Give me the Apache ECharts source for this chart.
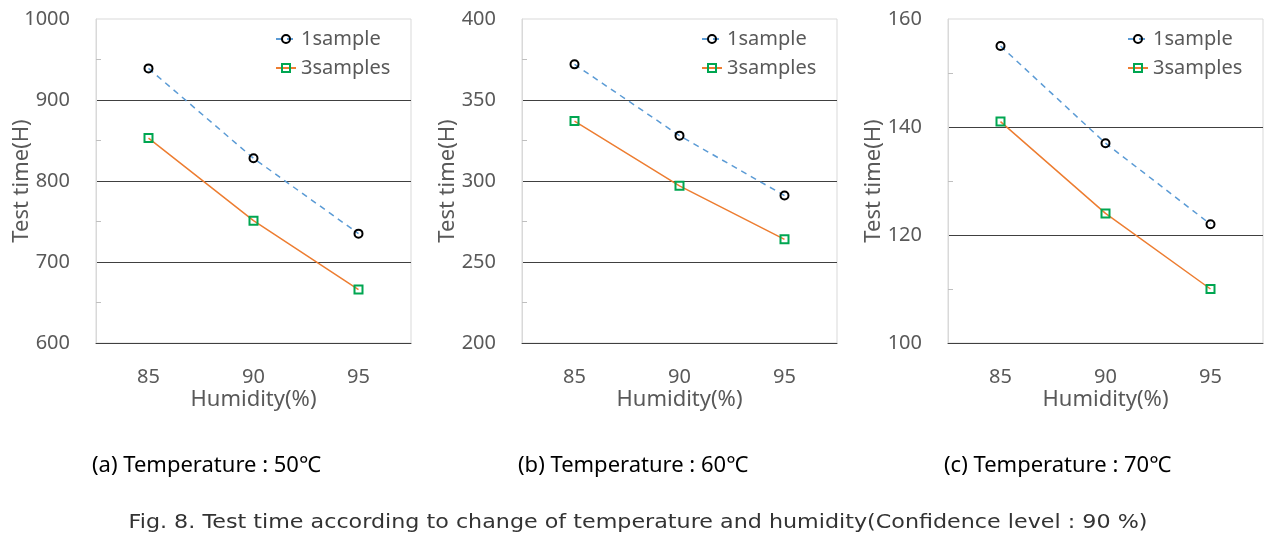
<!DOCTYPE html>
<html>
<head>
<meta charset="utf-8">
<script src="https://cdn.jsdelivr.net/npm/echarts@6/dist/echarts.min.js"></script>
<style>
html,body{margin:0;padding:0;background:#fff;}
#chart{width:1283px;height:546px;}
</style>
</head>
<body>
<div id="chart"></div>
<script>
// ---- data ----
const categories = ['85', '90', '95'];
const seriesNames = ['1sample', '3samples'];
const oneSampleA = [939, 828, 735];
const threeSamplesA = [853, 751, 666];
const oneSampleB = [372, 328, 291];
const threeSamplesB = [337, 297, 264];
const oneSampleC = [155, 137, 122];
const threeSamplesC = [141, 124, 110];
const yMin = [600, 200, 100];
const yMax = [1000, 400, 160];
const yStep = [100, 50, 20];
const subCaptions = ['(a) Temperature : 50\u2103', '(b) Temperature : 60\u2103', '(c) Temperature : 70\u2103'];
const caption = 'Fig. 8. Test time according to change of temperature and humidity(Confidence level : 90 %)';
const xName = 'Humidity(%)';
const yName = 'Test time(H)';

// ---- layout ----
const FONT = '"Noto Sans", sans-serif';
const panels = [
  {left: 96, one: oneSampleA, three: threeSamplesA},
  {left: 522, one: oneSampleB, three: threeSamplesB},
  {left: 948, one: oneSampleC, three: threeSamplesC}
];
const gridTop = 19, gridH = 324, gridW = 315;

const grids = [], xAxes = [], yAxes = [], series = [], legends = [], titles = [];
panels.forEach((p, i) => {
  grids.push({left: p.left, top: gridTop, width: gridW, height: gridH,
    show: true, borderColor: '#d9d9d9', borderWidth: 1, backgroundColor: 'transparent',
    outerBoundsMode: 'none'});
  xAxes.push({type: 'category', gridIndex: i, data: categories, boundaryGap: true,
    axisLine: {show: true, lineStyle: {color: '#404040', width: 1}},
    axisTick: {show: false},
    axisLabel: {color: '#595959', fontSize: 20, fontFamily: FONT, margin: 24},
    name: xName, nameLocation: 'middle', nameGap: 46, nameMoveOverlap: false,
    nameTextStyle: {color: '#595959', fontSize: 22, fontFamily: FONT},
    splitLine: {show: false}});
  yAxes.push({type: 'value', gridIndex: i, min: yMin[i], max: yMax[i], interval: yStep[i],
    axisLine: {show: true, lineStyle: {color: '#d9d9d9', width: 1}},
    axisTick: {show: false, inside: true},
    minorTick: {show: true, splitNumber: 2, length: 5, lineStyle: {color: '#bfbfbf', width: 1}},
    minorSplitLine: {show: false},
    axisLabel: {color: '#595959', fontSize: 20, fontFamily: FONT, margin: 26,
      formatter: v => String(v)},
    splitLine: {show: true, showMaxLine: false, lineStyle: {color: '#404040', width: 1}},
    name: yName, nameLocation: 'middle', nameGap: 63, nameRotate: 90, nameMoveOverlap: false,
    nameTextStyle: {color: '#595959', fontSize: 22, fontFamily: FONT}});
  series.push({name: seriesNames[0], type: 'line', xAxisIndex: i, yAxisIndex: i, data: p.one,
    color: '#5B9BD5',
    symbol: 'circle', symbolSize: 8,
    itemStyle: {color: 'rgba(255,255,255,0)', borderColor: '#000', borderWidth: 2},
    lineStyle: {color: '#5B9BD5', width: 1.5, type: [6, 5]},
    emphasis: {disabled: true}, animation: false, z: 3});
  series.push({name: seriesNames[1], type: 'line', xAxisIndex: i, yAxisIndex: i, data: p.three,
    color: '#ED7D31',
    symbol: 'rect', symbolSize: 8,
    itemStyle: {color: 'rgba(255,255,255,0)', borderColor: '#00A651', borderWidth: 2},
    lineStyle: {color: '#ED7D31', width: 1.5},
    emphasis: {disabled: true}, animation: false, z: 3});
  legends.push({data: seriesNames, orient: 'vertical', left: p.left + 179, top: 29,
    itemWidth: 20, itemHeight: 10, itemGap: 9, padding: 0, selectedMode: false,
    textStyle: {color: '#595959', fontSize: 20, fontFamily: FONT}});
  titles.push({text: subCaptions[i], left: p.left - 4, top: 455, padding: 0,
    textStyle: {color: '#000', fontSize: 22, fontWeight: 'normal', fontFamily: FONT}});
});

const chart = echarts.init(document.getElementById('chart'), null, {renderer: 'canvas'});
chart.setOption({
  animation: false,
  backgroundColor: '#fff',
  title: titles,
  grid: grids,
  xAxis: xAxes,
  yAxis: yAxes,
  legend: legends,
  series: series,
  graphic: [{
    type: 'text', x: 638, y: 523, scaleX: 1.17, scaleY: 1, originX: 0, originY: 0,
    style: {text: caption, fill: '#333', font: '19px "DejaVu Sans", sans-serif',
      align: 'center', verticalAlign: 'middle'}
  }]
});
</script>
</body>
</html>
